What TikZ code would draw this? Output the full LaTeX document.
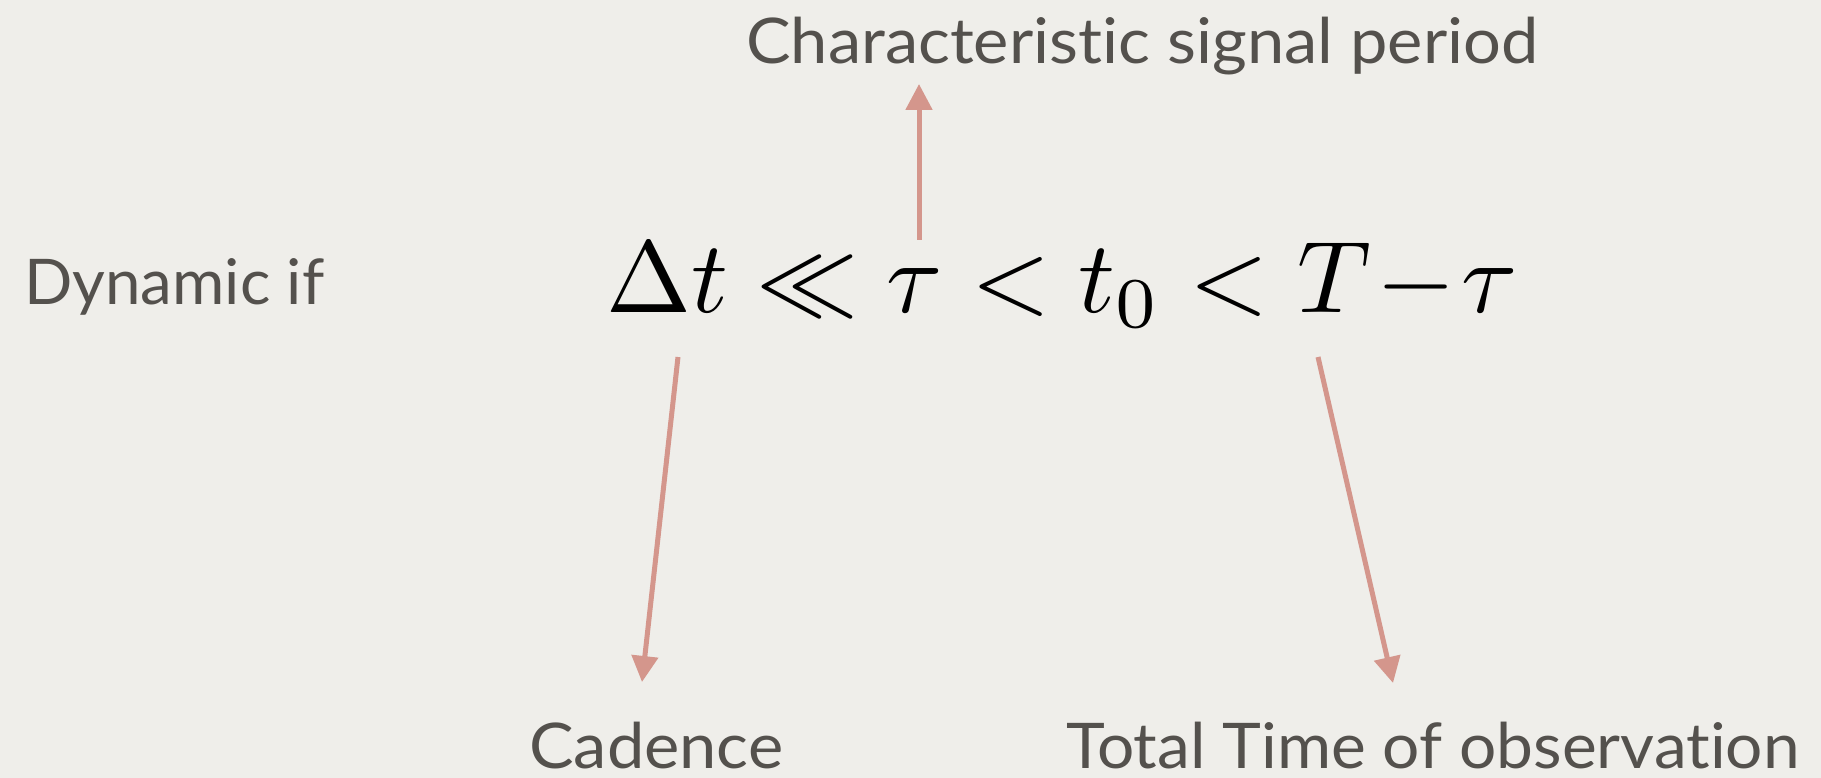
\documentclass[tikz,border=0pt]{standalone}
\usepackage[no-math]{fontspec}
\setmainfont{Lato}[Ligatures=NoCommon]
\usepackage{graphicx}
\usetikzlibrary{arrows.meta}
\definecolor{bgcol}{HTML}{EFEEEA}
\definecolor{txtcol}{HTML}{54514D}
\definecolor{arrcol}{HTML}{D4968C}
\tikzset{
  lbl/.style={anchor=base west, inner sep=0pt, text=txtcol, font=\fontsize{63}{72}\selectfont},
  conn/.style={draw=arrcol, line width=5pt, -{Triangle[width=26pt,length=26pt]}},
}
\begin{document}
\begin{tikzpicture}[x=1pt,y=-1pt]
\fill[bgcol] (0,0) rectangle (1821,778);
\useasboundingbox (0,0) rectangle (1821,778);
\node[lbl] (period) at (746,64) {\scalebox{1.06}[1]{Characteristic signal period}};
\node[lbl] (dyn) at (24,304) {\scalebox{1.01}[1]{Dynamic if}};
\node[lbl] (cad) at (529,768) {\scalebox{1.06}[1]{Cadence}};
\node[lbl] (tot) at (1066,768) {\scalebox{1.045}[1]{Total Time of observation}};
\node[anchor=base west, inner sep=0pt] (eq) at (606,312) {\scalebox{10.2}{$\Delta t \ll \tau < t_0 < T\mkern1mu{-}\mkern1mu\tau$}};
\coordinate (upS) at (919,240);
\coordinate (upE) at (919,84);
\coordinate (cS) at (678,357);
\coordinate (cE) at (642,682);
\coordinate (tS) at (1318,357);
\coordinate (tE) at (1393,683);
\draw[conn] (upS) -- (upE);
\draw[conn] (cS) -- (cE);
\draw[conn] (tS) -- (tE);
\end{tikzpicture}
\end{document}
